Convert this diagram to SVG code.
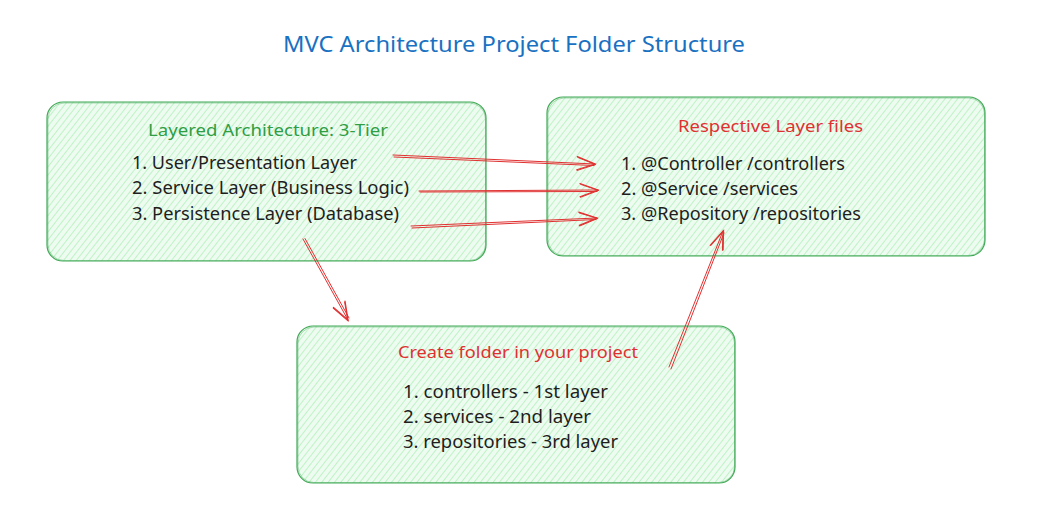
<svg xmlns="http://www.w3.org/2000/svg" width="1038" height="521" viewBox="0 0 1038 521">
<style>
  text { font-family: "Noto Sans", "Open Sans", sans-serif; }
  .title { fill: #1971c2; font-size: 21px; }
  .ghead { fill: #2f9e44; font-size: 17px; }
  .rhead { fill: #e03131; font-size: 17px; }
  .item { fill: #1e1e1e; font-size: 17.5px; }
  .box { fill: url(#hatch); stroke: #40a956; stroke-width: 1.2; }
  .box2 { fill: none; stroke: #40a956; stroke-width: 0.6; opacity: 0.7; }
  .conn { fill: none; stroke: #e03131; stroke-width: 1; stroke-linecap: round; }
</style>
<defs>
  <pattern id="hatch" patternUnits="userSpaceOnUse" width="5" height="5" patternTransform="rotate(38)">
    <rect width="5" height="5" fill="#eefbf0"/>
    <line x1="0" y1="0" x2="0" y2="5" stroke="#b2f2bb" stroke-width="1.6"/>
  </pattern>
  <marker id="arr" markerUnits="userSpaceOnUse" markerWidth="30" markerHeight="30" refX="0" refY="0" viewBox="-20 -10 25 20" orient="auto" overflow="visible">
    <path d="M-15,-5.5 L0,0 L-15,5.5" fill="none" stroke="#e03131" stroke-width="1" stroke-linecap="round"/>
    <path d="M-14.5,-4.8 L0.5,0.4 L-14.6,6" fill="none" stroke="#e03131" stroke-width="0.8" stroke-linecap="round"/>
  </marker>
</defs>
<rect width="1038" height="521" fill="#ffffff"/>

<text class="title" x="514" y="52" text-anchor="middle" textLength="462" lengthAdjust="spacingAndGlyphs">MVC Architecture Project Folder Structure</text>

<g id="node-layered">
  <rect class="box" x="47" y="102" width="439" height="159" rx="16"/>
  <rect class="box2" x="48" y="103" width="437.5" height="157.5" rx="16"/>
  <text class="ghead" x="148" y="136" textLength="240" lengthAdjust="spacingAndGlyphs">Layered Architecture: 3-Tier</text>
  <text class="item" x="132" y="169" textLength="225" lengthAdjust="spacingAndGlyphs">1. User/Presentation Layer</text>
  <text class="item" x="132" y="194" textLength="277" lengthAdjust="spacingAndGlyphs">2. Service Layer (Business Logic)</text>
  <text class="item" x="132" y="220" textLength="267" lengthAdjust="spacingAndGlyphs">3. Persistence Layer (Database)</text>
</g>

<g id="node-files">
  <rect class="box" x="547" y="97" width="438" height="159" rx="16"/>
  <rect class="box2" x="548" y="98" width="436.5" height="157.5" rx="16"/>
  <text class="rhead" x="678" y="132" textLength="185" lengthAdjust="spacingAndGlyphs">Respective Layer files</text>
  <text class="item" x="621" y="170" textLength="224" lengthAdjust="spacingAndGlyphs">1. @Controller /controllers</text>
  <text class="item" x="621" y="195" textLength="177" lengthAdjust="spacingAndGlyphs">2. @Service /services</text>
  <text class="item" x="621" y="220" textLength="240" lengthAdjust="spacingAndGlyphs">3. @Repository /repositories</text>
</g>

<g id="node-create">
  <rect class="box" x="297" y="326" width="438" height="157" rx="16"/>
  <rect class="box2" x="298" y="327" width="436.5" height="155.5" rx="16"/>
  <text class="rhead" x="398" y="358" textLength="240" lengthAdjust="spacingAndGlyphs">Create folder in your project</text>
  <text class="item" x="403" y="398" textLength="205" lengthAdjust="spacingAndGlyphs">1. controllers - 1st layer</text>
  <text class="item" x="403" y="423" textLength="188" lengthAdjust="spacingAndGlyphs">2. services - 2nd layer</text>
  <text class="item" x="403" y="448" textLength="215" lengthAdjust="spacingAndGlyphs">3. repositories - 3rd layer</text>
</g>

<g id="connectors">
  <path class="conn" d="M393,155 L595,164" marker-end="url(#arr)"/>
  <path class="conn" d="M394,157 L594,165.5"/>
  <path class="conn" d="M419,191 L598,190" marker-end="url(#arr)"/>
  <path class="conn" d="M420,192 L597,191.5"/>
  <path class="conn" d="M411,226 L597,218" marker-end="url(#arr)"/>
  <path class="conn" d="M412,228 L596,219.5"/>
  <path class="conn" d="M303,239 L348,320" marker-end="url(#arr)"/>
  <path class="conn" d="M305,238.5 L349,318"/>
  <path class="conn" d="M669,367 L723,231" marker-end="url(#arr)"/>
  <path class="conn" d="M671,369 L724,233"/>
</g>
</svg>
